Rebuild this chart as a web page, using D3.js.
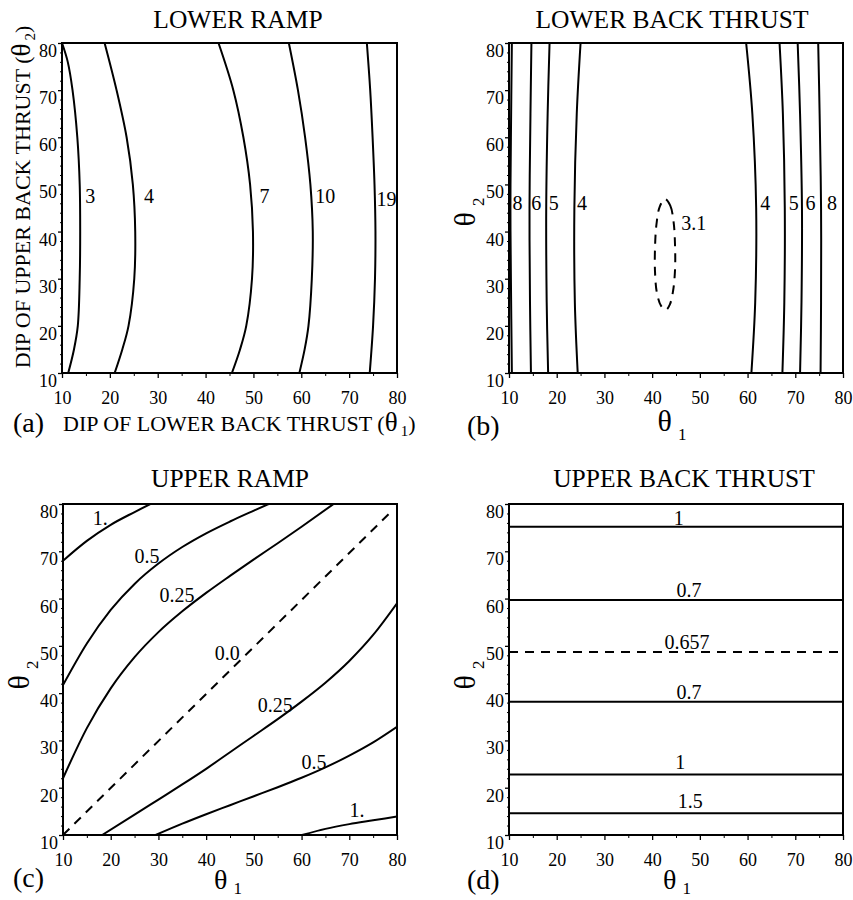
<!DOCTYPE html>
<html>
<head>
<meta charset="utf-8">
<script src="https://cdn.jsdelivr.net/npm/d3@7"></script>
<style>
body { margin: 0; background: #fff; }
text { font-family: "Liberation Serif", "Times New Roman", serif; fill: #000; }
</style>
</head>
<body>
<svg id="fig" width="853" height="900"></svg>
<script>
// ticks shared by all four panels (dip angles, degrees)
var majorTicks = [10, 20, 30, 40, 50, 60, 70, 80];
var minorTicksX = [15, 25, 35, 45, 55, 65, 75];
var minorTicksY = [12, 14, 16, 18, 22, 24, 26, 28, 32, 34, 36, 38, 42, 44, 46, 48,
                   52, 54, 56, 58, 62, 64, 66, 68, 72, 74, 76, 78];

// (a) lower ramp, contours as [theta1, theta2]
var lowerRampLevels = ["3", "4", "7", "10", "19"];
var lowerRampLines = [
  [[10, 80], [11.2, 76], [12.2, 70], [13.2, 60], [13.7, 50], [13.8, 40], [13.7, 30], [13.3, 20], [12.5, 15], [11.3, 10]],
  [[18.9, 80], [21.4, 70], [23.5, 60], [24.8, 50], [25.3, 40], [25.1, 30], [23.9, 20], [22.6, 15], [21.0, 10]],
  [[42.7, 80], [45.8, 70], [47.9, 60], [49.3, 50], [49.9, 40], [49.7, 30], [48.5, 20], [47.2, 15], [45.5, 10]],
  [[57.4, 80], [59.3, 70], [60.8, 60], [61.9, 50], [62.4, 40], [62.2, 30], [61.5, 20], [60.7, 15], [59.6, 10]],
  [[73.7, 80], [74.4, 70], [74.9, 60], [75.3, 50], [75.5, 40], [75.4, 30], [75.0, 20], [74.3, 10]]
];
var lowerRampLabelPos = [[15.9, 47.5], [28.2, 47.5], [52.3, 47.5], [65.0, 47.5], [77.8, 47.0]];

// (b) lower back thrust
var lowerBackLevels = ["8", "6", "5", "4", "4", "5", "6", "8"];
var lowerBackLines = [
  [[10.6, 80], [10.4, 60], [10.3, 45], [10.4, 30], [10.6, 10]],
  [[14.7, 80], [14.5, 65], [14.3, 45], [14.4, 25], [14.6, 10]],
  [[18.5, 80], [18.1, 65], [17.8, 45], [17.9, 25], [18.2, 10]],
  [[25.0, 80], [24.2, 65], [23.7, 45], [23.8, 25], [24.4, 10]],
  [[59.7, 80], [61.0, 65], [61.8, 45], [61.6, 25], [60.8, 10]],
  [[66.7, 80], [67.4, 65], [67.8, 45], [67.7, 25], [67.3, 10]],
  [[70.5, 80], [71.0, 65], [71.4, 45], [71.3, 25], [71.0, 10]],
  [[74.8, 80], [75.1, 65], [75.4, 45], [75.4, 25], [75.3, 10]]
];
var lowerBackLabelPos = [[11.8, 46], [15.7, 46], [19.4, 46], [25.3, 46], [63.7, 46], [69.7, 46], [73.2, 46], [77.7, 46]];
var lowerBackMinLevel = "3.1";
var lowerBackMinLoop = [[42.7, 46.9], [43.8, 45.5], [44.5, 42.0], [44.8, 37.0], [44.8, 32.0], [44.4, 27.5],
  [43.7, 24.5], [42.9, 23.4], [41.9, 24.2], [41.0, 27.0], [40.6, 31.5], [40.6, 36.5], [40.9, 41.5], [41.6, 45.3]];
var lowerBackMinLabelPos = [48.7, 41.8];

// (c) upper ramp
var upperRampLevels = ["1.", "0.5", "0.25", "0.25", "0.5", "1."];
var upperRampLines = [
  [[10, 68.0], [15, 72.2], [20, 75.6], [25, 78.3], [28.3, 80]],
  [[10, 41.7], [15, 50.5], [20, 57.6], [25, 63.1], [30, 67.4], [35, 70.9], [40, 73.8], [45, 76.3], [50, 78.6], [53.1, 80]],
  [[10, 22.0], [15, 32.6], [20, 41.0], [25, 47.6], [30, 52.9], [35, 57.3], [40, 61.2], [45, 64.8], [50, 68.3],
   [55, 71.7], [60, 75.2], [66.7, 80]],
  [[18.2, 10], [25, 14.3], [30, 17.5], [35, 20.7], [40, 24.0], [45, 27.5], [50, 31.0], [55, 34.5], [60, 38.2],
   [65, 42.2], [70, 46.8], [75, 52.3], [80, 59.0]],
  [[29.4, 10], [35, 12.4], [40, 14.4], [45, 16.3], [50, 18.2], [55, 20.1], [60, 22.1], [65, 24.3], [70, 26.8],
   [75, 29.6], [80, 32.9]],
  [[60.1, 10], [65, 11.3], [70, 12.3], [75, 13.1], [80, 13.9]]
];
var upperRampLabelPos = [[17.8, 77.0], [27.6, 68.9], [33.9, 60.8], [54.5, 37.5], [62.6, 25.5], [71.6, 15.3]];
var upperRampZeroLevel = "0.0";
var upperRampZeroLine = [[10, 10], [78.3, 77.9]];
var upperRampZeroLabelPos = [44.4, 48.4];

// (d) upper back thrust: level lines are flat in theta1
var upperBackLevels = ["1", "0.7", "0.657", "0.7", "1", "1.5"];
var upperBackTheta2 = [75.2, 59.7, 48.7, 38.2, 22.8, 14.6];
var upperBackDashed = [false, false, true, false, false, false];
var upperBackLabelPos = [[45.6, 77.0], [47.7, 61.8], [47.3, 50.9], [47.7, 40.3], [45.9, 25.5], [48.0, 17.2]];

var svg = d3.select("#fig");

function makePanel(id, box) {
  var g = svg.append("g");
  var x = d3.scaleLinear().domain([10, 80]).range([box[0], box[1]]);
  var y = d3.scaleLinear().domain([10, 80]).range([box[3], box[2]]);

  g.append("clipPath").attr("id", "clip" + id)
    .append("rect").attr("x", box[0]).attr("y", box[2])
    .attr("width", box[1] - box[0]).attr("height", box[3] - box[2]);

  // x ticks, outside the frame
  g.append("g").attr("transform", "translate(0," + box[3] + ")")
    .call(d3.axisBottom(x).tickValues(majorTicks).tickSize(5).tickPadding(13).tickFormat(d3.format("d")))
    .call(function(a) {
      a.select(".domain").remove();
      a.selectAll("line").attr("stroke-width", 1.3);
      a.selectAll("text").attr("font-size", 18);
    });
  g.append("g").attr("transform", "translate(0," + box[3] + ")")
    .call(d3.axisBottom(x).tickValues(minorTicksX).tickSize(3).tickFormat(""))
    .call(function(a) { a.select(".domain").remove(); });

  // y ticks; labels hang just below each tick, as in the original
  g.append("g").attr("transform", "translate(" + box[0] + ",0)")
    .call(d3.axisLeft(y).tickValues(majorTicks).tickSize(4).tickPadding(1).tickFormat(d3.format("d")))
    .call(function(a) {
      a.select(".domain").remove();
      a.selectAll("line").attr("stroke-width", 1.3);
      a.selectAll("text").attr("font-size", 18).attr("dy", "0.75em");
    });
  g.append("g").attr("transform", "translate(" + box[0] + ",0)")
    .call(d3.axisLeft(y).tickValues(minorTicksY).tickSize(2).tickFormat(""))
    .call(function(a) { a.select(".domain").remove(); });

  var plot = g.append("g").attr("clip-path", "url(#clip" + id + ")");

  g.append("rect").attr("x", box[0]).attr("y", box[2])
    .attr("width", box[1] - box[0]).attr("height", box[3] - box[2])
    .attr("fill", "none").attr("stroke", "#000").attr("stroke-width", 2);

  return { g: g, plot: plot, x: x, y: y };
}

function drawLines(p, lines, dashed, curve) {
  var line = d3.line()
    .x(function(d) { return p.x(d[0]); })
    .y(function(d) { return p.y(d[1]); })
    .curve(curve);
  p.plot.selectAll(null).data(lines).enter().append("path")
    .attr("d", line)
    .attr("fill", "none")
    .attr("stroke", "#000")
    .attr("stroke-width", 2)
    .attr("stroke-dasharray", dashed ? "9,7" : null);
}

function drawLabels(p, texts, pos) {
  p.g.selectAll(null).data(texts).enter().append("text")
    .attr("x", function(d, i) { return p.x(pos[i][0]); })
    .attr("y", function(d, i) { return p.y(pos[i][1]); })
    .attr("text-anchor", "middle")
    .attr("dy", "0.35em")
    .attr("font-size", 20)
    .text(function(d) { return d; });
}

function title(x, y, s) {
  svg.append("text").attr("x", x).attr("y", y).attr("text-anchor", "middle")
    .attr("font-size", 25.5).text(s);
}

function panelTag(x, y, s) {
  svg.append("text").attr("x", x).attr("y", y).attr("font-size", 28).text(s);
}

// theta with subscript
function thetaLabel(x, y, sub, rotate, size) {
  var t = svg.append("text").attr("text-anchor", "middle")
    .attr("transform", "translate(" + x + "," + y + ")" + (rotate ? " rotate(-90)" : ""));
  t.append("tspan").attr("font-size", size || 30).text("\u03b8");
  t.append("tspan").attr("font-size", 17).attr("dx", 6).attr("dy", size ? 5 : 9).text(sub);
}

var pa = makePanel("a", [62, 397, 43, 373]);
var pb = makePanel("b", [509, 843, 43, 373]);
var pc = makePanel("c", [63, 397, 504, 835]);
var pd = makePanel("d", [509, 843, 504, 835]);

drawLines(pa, lowerRampLines, false, d3.curveCatmullRom);
drawLabels(pa, lowerRampLevels, lowerRampLabelPos);

drawLines(pb, lowerBackLines, false, d3.curveCatmullRom);
drawLabels(pb, lowerBackLevels, lowerBackLabelPos);
drawLines(pb, [lowerBackMinLoop], true, d3.curveCatmullRomClosed);
drawLabels(pb, [lowerBackMinLevel], [lowerBackMinLabelPos]);

drawLines(pc, upperRampLines, false, d3.curveMonotoneX);
drawLabels(pc, upperRampLevels, upperRampLabelPos);
drawLines(pc, [upperRampZeroLine], true, d3.curveLinear);
drawLabels(pc, [upperRampZeroLevel], [upperRampZeroLabelPos]);

var flat = upperBackTheta2.map(function(v) { return [[10, v], [80, v]]; });
drawLines(pd, flat.filter(function(d, i) { return !upperBackDashed[i]; }), false, d3.curveLinear);
drawLines(pd, flat.filter(function(d, i) { return upperBackDashed[i]; }), true, d3.curveLinear);
drawLabels(pd, upperBackLevels, upperBackLabelPos);

title(238, 28, "LOWER RAMP");
title(672, 28, "LOWER BACK THRUST");
title(230, 487, "UPPER RAMP");
title(684, 487, "UPPER BACK THRUST");

// (a) axis captions
var xa = svg.append("text").attr("x", 63).attr("y", 431).attr("font-size", 22);
xa.append("tspan").text("DIP OF LOWER BACK THRUST (");
xa.append("tspan").attr("font-size", 27).text("\u03b8");
xa.append("tspan").attr("font-size", 15).attr("dx", 3).attr("dy", 5).text("1");
xa.append("tspan").attr("dy", -5).text(")");

var ya = svg.append("text").attr("text-anchor", "middle").attr("font-size", 22)
  .attr("transform", "translate(30,197) rotate(-90)");
ya.append("tspan").text("DIP OF UPPER BACK THRUST (");
ya.append("tspan").attr("font-size", 27).text("\u03b8");
ya.append("tspan").attr("font-size", 15).attr("dx", 3).attr("dy", 5).text("2");
ya.append("tspan").attr("dy", -5).text(")");

panelTag(13, 432, "(a)");
panelTag(467, 435, "(b)");
panelTag(13, 887, "(c)");
panelTag(467, 889, "(d)");

thetaLabel(672, 431, "1", false);
thetaLabel(228, 889, "1", false, 28);
thetaLabel(677, 889, "1", false, 28);
thetaLabel(475, 212, "2", true);
thetaLabel(29, 675, "2", true);
thetaLabel(475, 675, "2", true);
</script>
</body>
</html>
